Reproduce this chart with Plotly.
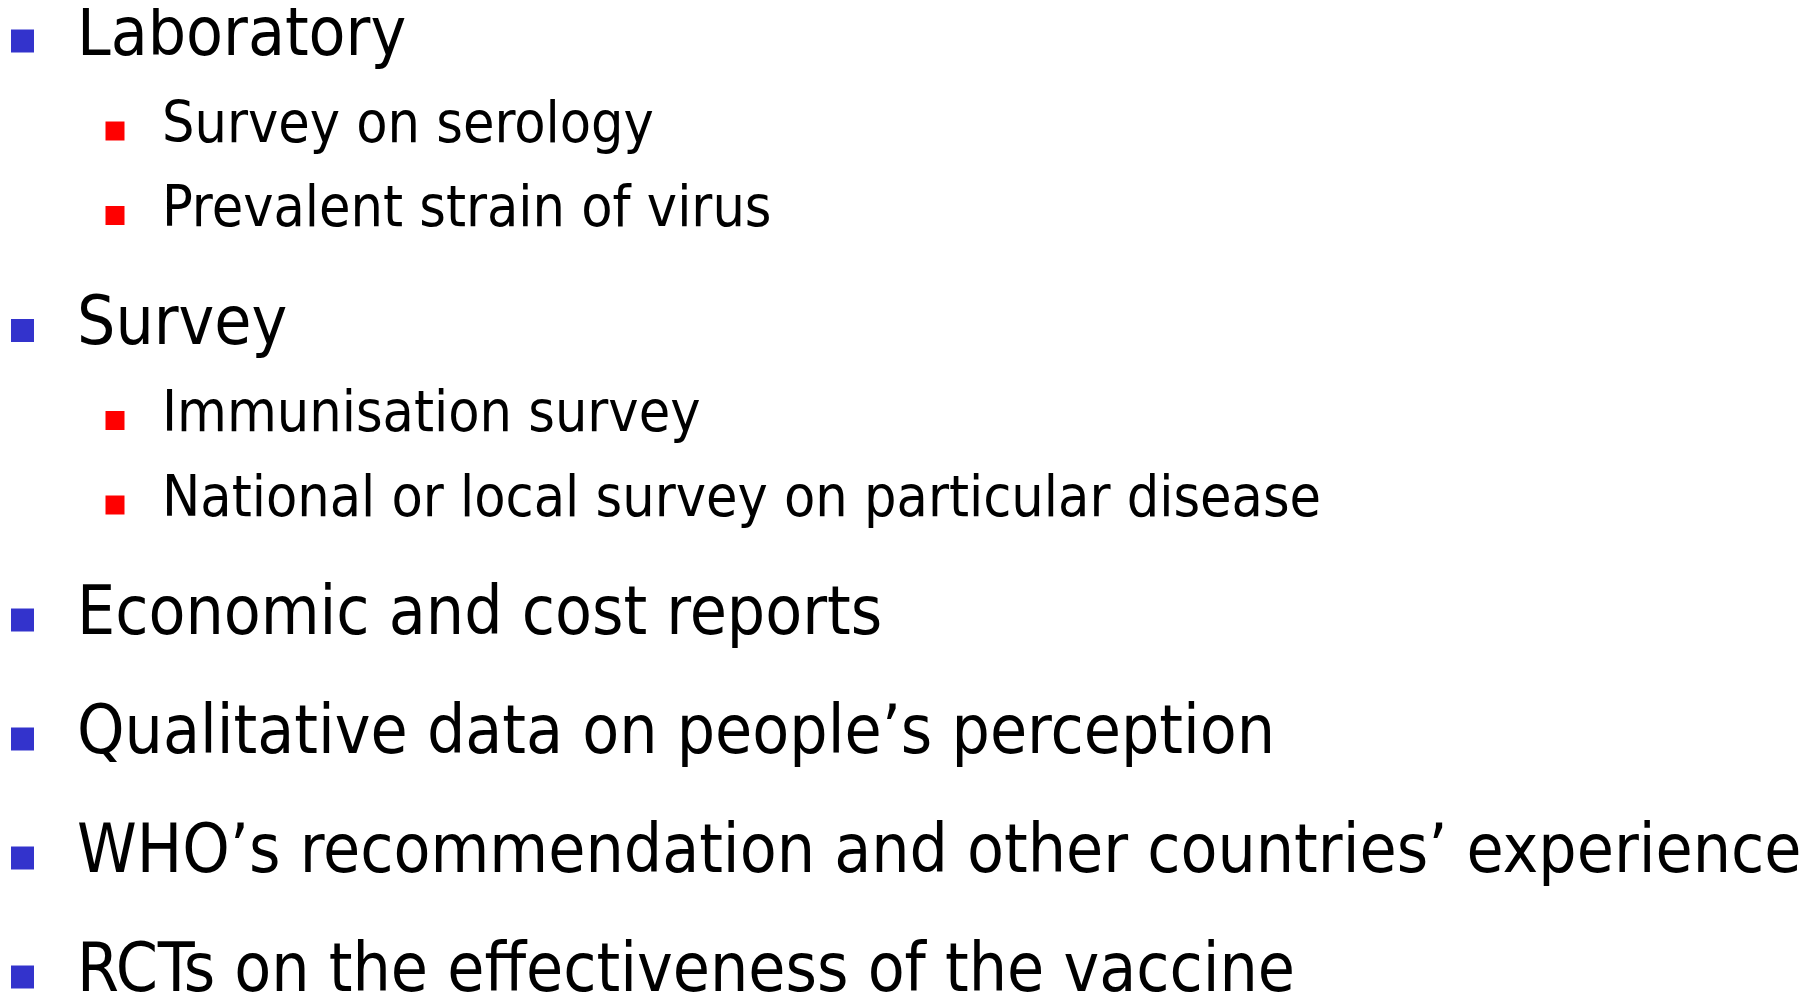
import plotly.graph_objects as go

# ---- content ----
items = [
    "Laboratory",
    "Survey on serology",
    "Prevalent strain of virus",
    "Survey",
    "Immunisation survey",
    "National or local survey on particular disease",
    "Economic and cost reports",
    "Qualitative data on people\u2019s perception",
    "WHO\u2019s recommendation and other countries\u2019 experience",
    "RCTs on the effectiveness of the vaccine",
]
levels = [0, 1, 1, 0, 1, 1, 0, 0, 0, 0]

# ---- layout (pixel space, measured from the page's top-left) ----
W, H = 1819, 993
PAGE_OFF = 8  # default body margin of the html page
FONT = "DejaVu Sans Condensed"
style = {
    0: dict(bullet_x=22.5, bullet_size=23, color="#3333CC", text_x=76, font_size=67.2, base_off=15),
    1: dict(bullet_x=115, bullet_size=19, color="#FF0000", text_x=161, font_size=56.9, base_off=11),
}
gap = {(0, 1): 90, (1, 1): 84.5, (1, 0): 115, (0, 0): 119}

ys = []
y = 41
for i, lv in enumerate(levels):
    if i > 0:
        y += gap[(levels[i - 1], lv)]
    ys.append(y)

fig = go.Figure()
for lv in (0, 1):
    idx = [i for i, l in enumerate(levels) if l == lv]
    s = style[lv]
    fig.add_trace(go.Scatter(
        x=[s["bullet_x"]] * len(idx),
        y=[ys[i] for i in idx],
        mode="markers",
        marker=dict(symbol="square", size=s["bullet_size"], color=s["color"], line=dict(width=0)),
        hoverinfo="skip",
        showlegend=False,
        cliponaxis=False,
    ))

for i, (txt, lv) in enumerate(zip(items, levels)):
    s = style[lv]
    baseline = ys[i] + s["base_off"]
    fig.add_annotation(
        x=s["text_x"], y=baseline - 0.36 * s["font_size"],
        xref="x", yref="y",
        text=txt, showarrow=False,
        xanchor="left", yanchor="middle",
        borderpad=0,
        font=dict(family=FONT, size=s["font_size"], color="#000000"),
    )

fig.update_layout(
    width=W, height=H,
    margin=dict(l=0, r=0, t=0, b=0),
    paper_bgcolor="white", plot_bgcolor="white",
    xaxis=dict(range=[PAGE_OFF, W + PAGE_OFF], visible=False, fixedrange=True),
    yaxis=dict(range=[H + PAGE_OFF, PAGE_OFF], visible=False, fixedrange=True),
    showlegend=False,
)

fig.write_html("out.html", config={"displayModeBar": False})
